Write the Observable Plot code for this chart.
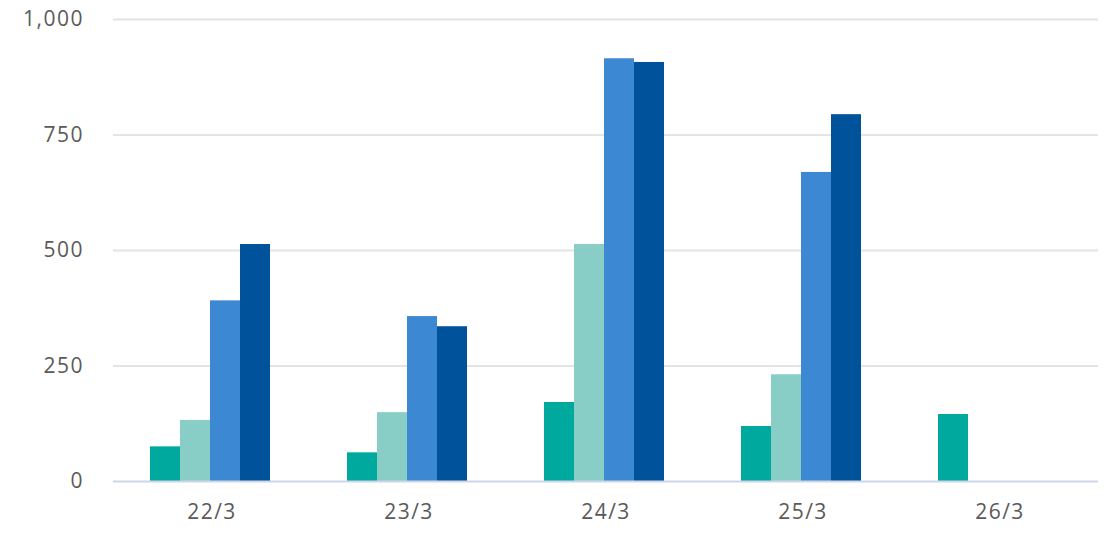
<!DOCTYPE html>
<html>
<head>
<meta charset="utf-8">
<script src="https://cdn.jsdelivr.net/npm/d3@7"></script>
<script src="https://cdn.jsdelivr.net/npm/@observablehq/plot@0.6"></script>
<style>
  html, body { margin: 0; padding: 0; background: #fff; }
  #chart { width: 1116px; height: 560px; }
  #chart svg text { letter-spacing: 1.5px; }
</style>
</head>
<body>
<div id="chart"></div>
<script>
const dates = ["22/3", "23/3", "24/3", "25/3", "26/3"];
const seriesNames = ["Series 1", "Series 2", "Series 3", "Series 4"];
const series1 = [75, 62, 171, 119, 145];
const series2 = [132, 149, 513, 231, null];
const series3 = [391, 357, 915, 669, null];
const series4 = [513, 335, 907, 794, null];
const seriesColors = ["#00A99D", "#88CDC6", "#3D88D3", "#00529B"];
const yTicks = [0, 250, 500, 750, 1000];

const allSeries = [series1, series2, series3, series4];
const rows = [];
dates.forEach((d, i) => {
  allSeries.forEach((s, j) => {
    if (s[i] != null) rows.push({date: d, series: seriesNames[j], value: s[i]});
  });
});

const chart = Plot.plot({
  width: 1116,
  height: 560,
  marginTop: 19,
  marginBottom: 79,
  marginLeft: 112,
  marginRight: 18,
  style: {fontFamily: "'Open Sans', sans-serif", fontSize: "21px", color: "#5a5a5a", background: "#fff"},
  fx: {domain: dates, padding: 0, tickSize: 0, tickPadding: 23, label: null},
  x: {domain: seriesNames, padding: 0, insetLeft: 36.5, insetRight: 40.5, axis: null},
  y: {domain: [0, 1000], ticks: yTicks, tickFormat: d3.format(","), tickSize: 0, tickPadding: 29.5, label: null},
  color: {domain: seriesNames, range: seriesColors},
  marks: [
    Plot.gridY(yTicks.filter(t => t > 0), {stroke: "#e4e4e4", strokeOpacity: 1, strokeWidth: 2}),
    Plot.barY(rows, {fx: "date", x: "series", y: "value", fill: "series"}),
    Plot.ruleY([0], {stroke: "#cdd6e8", strokeWidth: 2})
  ]
});
document.getElementById("chart").appendChild(chart);
</script>
</body>
</html>
